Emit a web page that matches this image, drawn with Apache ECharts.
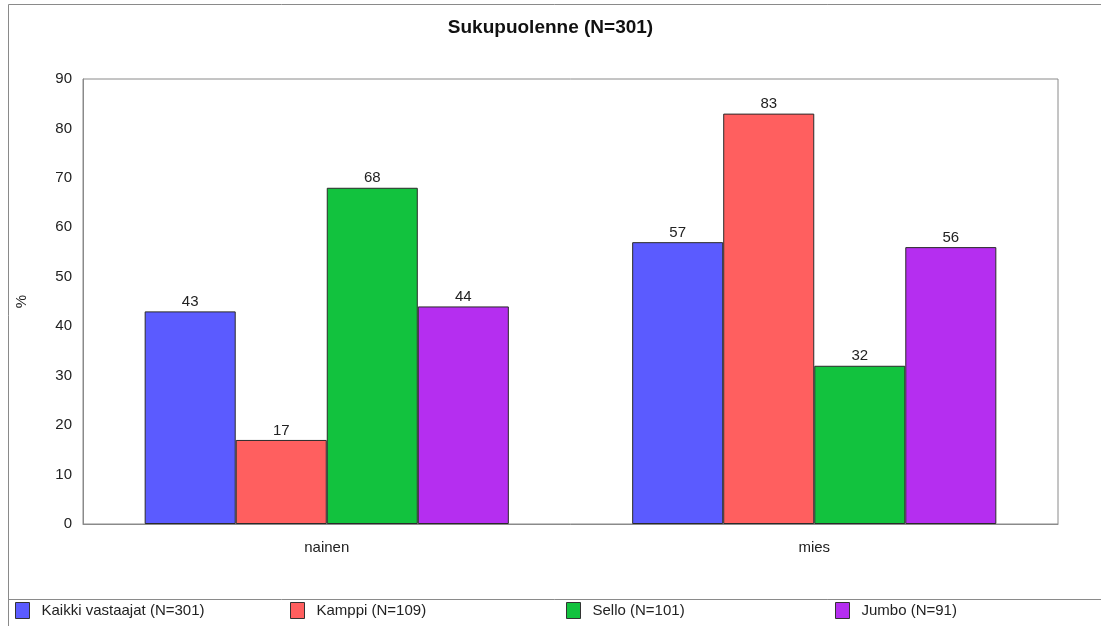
<!DOCTYPE html>
<html>
<head>
<meta charset="utf-8">
<script src="https://cdn.jsdelivr.net/npm/echarts@6/dist/echarts.min.js"></script>
<style>
  html, body { margin: 0; padding: 0; background: #fff; }
  #chart { width: 1101px; height: 626px; }
</style>
</head>
<body>
<div id="chart"></div>
<script>
// Respondent gender split per shopping centre (%)
const categories = ['nainen', 'mies'];
const seriesNames = ['Kaikki vastaajat (N=301)', 'Kamppi (N=109)', 'Sello (N=101)', 'Jumbo (N=91)'];
const kaikki = [43, 57];
const kamppi = [17, 83];
const sello = [68, 32];
const jumbo = [44, 56];
const yTicks = [0, 10, 20, 30, 40, 50, 60, 70, 80, 90];

const colors = ['#5b5bff', '#ff5f5f', '#12c23e', '#b52ef0'];
const values = [kaikki, kamppi, sello, jumbo];
const legendLeft = [15, 290, 566, 835];
const font = 'Arial, "Liberation Sans", sans-serif';

const chart = echarts.init(document.getElementById('chart'), null, { renderer: 'canvas' });

const series = seriesNames.map((name, i) => ({
  name,
  type: 'bar',
  data: values[i],
  barGap: '0%',
  barCategoryGap: '25.3%',
  itemStyle: { color: colors[i], borderColor: '#2a2a2a', borderWidth: 1 },
  label: {
    show: true,
    position: 'top',
    distance: 2,
    color: '#222',
    fontFamily: font,
    fontSize: 15
  }
}));

const legends = seriesNames.map((name, i) => ({
  data: [name],
  left: legendLeft[i],
  top: 602,
  orient: 'horizontal',
  icon: 'rect',
  itemWidth: 14,
  itemHeight: 16,
  itemGap: 0,
  padding: 0,
  selectedMode: false,
  itemStyle: { borderColor: '#333', borderWidth: 1 },
  textStyle: { color: '#222', fontFamily: font, fontSize: 15, padding: [0, 0, 0, 7] }
}));

chart.setOption({
  backgroundColor: '#fff',
  animation: false,
  color: colors,
  title: {
    text: 'Sukupuolenne (N=301)',
    left: 'center',
    top: 13,
    textStyle: { fontFamily: font, fontSize: 19, fontWeight: 'bold', color: '#111' }
  },
  legend: legends,
  grid: {
    left: 83, top: 79, right: 43, bottom: 102,
    show: true, borderColor: '#8a8a8a', borderWidth: 1, backgroundColor: '#fff'
  },
  xAxis: {
    type: 'category',
    data: categories,
    axisLine: { show: true, lineStyle: { color: '#8a8a8a' } },
    axisTick: { show: false },
    axisLabel: { color: '#222', fontFamily: font, fontSize: 15, margin: 16 }
  },
  yAxis: {
    type: 'value',
    min: yTicks[0],
    max: yTicks[yTicks.length - 1],
    interval: yTicks[1] - yTicks[0],
    name: '%',
    nameLocation: 'middle',
    nameGap: 54,
    nameRotate: 90,
    nameTextStyle: { color: '#222', fontFamily: font, fontSize: 15 },
    axisLine: { show: true, lineStyle: { color: '#8a8a8a' } },
    axisTick: { show: false },
    splitLine: { show: false },
    axisLabel: { color: '#222', fontFamily: font, fontSize: 15, margin: 11 }
  },
  graphic: [
    // outer frame around the chart area and the legend strip
    { type: 'line', shape: { x1: 8.5, y1: 4.5, x2: 1101, y2: 4.5 }, style: { stroke: '#8a8a8a', lineWidth: 1 } },
    { type: 'line', shape: { x1: 8.5, y1: 4.5, x2: 8.5, y2: 626 }, style: { stroke: '#8a8a8a', lineWidth: 1 } },
    { type: 'line', shape: { x1: 8.5, y1: 599.5, x2: 1101, y2: 599.5 }, style: { stroke: '#8a8a8a', lineWidth: 1 } }
  ],
  series
});
</script>
</body>
</html>
